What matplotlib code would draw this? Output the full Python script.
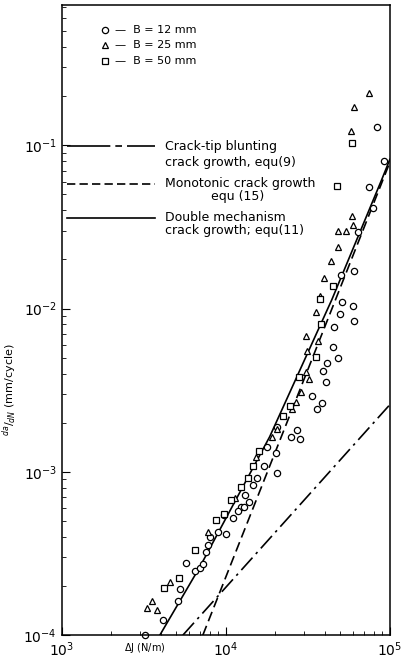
import matplotlib
matplotlib.use("Agg")
import matplotlib.pyplot as plt
from matplotlib.ticker import LogLocator, NullFormatter

# B = 12 mm (circles)
dj_12 = [83400, 91800, 74500, 78700, 63800, 50200, 60300, 50900, 59400, 49500,
         60300, 45600, 44900, 48200, 41300, 39000, 40700, 33400, 38500, 35900,
         27100, 24900, 28200, 20500, 17800, 20200, 17100, 20500, 15500, 14600,
         13100, 13800, 12300, 11000, 9730, 11800, 12900, 7980, 8930, 10000,
         7770, 7550, 6470, 6930, 7240, 5700, 5250, 5090, 4130, 3210]
da_12 = [0.129, 0.0799, 0.0555, 0.0413, 0.0295, 0.0161, 0.0171, 0.0110, 0.0103, 0.0093,
         0.00841, 0.0077, 0.00585, 0.00499, 0.00464, 0.00413, 0.00357, 0.00292, 0.00264, 0.00242,
         0.00181, 0.00164, 0.00159, 0.00189, 0.00142, 0.00131, 0.00109, 0.000986, 0.00092, 0.000835,
         0.000726, 0.00065, 0.000607, 0.000521, 0.000543, 0.000574, 0.000607, 0.0004, 0.00043, 0.000418,
         0.000358, 0.000325, 0.000246, 0.000257, 0.000272, 0.000276, 0.000192, 0.000163, 0.000123, 0.0001]

# B = 25 mm (triangles)
dj_25 = [74500, 60300, 57800, 58600, 59400, 48200, 54000, 48200, 43700, 39600,
         37400, 35400, 30800, 36400, 31200, 30800, 32100, 28600, 26700, 25200,
         20500, 19100, 15200, 11400, 7770, 4560, 3540, 3300, 3800]
da_25 = [0.21, 0.171, 0.122, 0.0369, 0.0325, 0.0299, 0.0299, 0.0239, 0.0196, 0.0155,
         0.012, 0.00957, 0.00676, 0.00629, 0.00552, 0.00407, 0.00368, 0.0031, 0.00268, 0.00242,
         0.00184, 0.00164, 0.00123, 0.000688, 0.00043, 0.000211, 0.000163, 0.000146, 0.000142]

# B = 50 mm (squares)
dj_50 = [58600, 47500, 44900, 37400, 37900, 35400, 27900, 22300, 24500, 15900,
         13600, 12300, 10700, 9730, 8690, 6470, 5160, 4190, 14600]
da_50 = [0.103, 0.0562, 0.0138, 0.0115, 0.00805, 0.00506, 0.00379, 0.00219, 0.00253, 0.00134,
         0.00092, 0.000812, 0.000668, 0.000551, 0.000507, 0.000334, 0.000223, 0.000195, 0.00109]

# Model curves
dj_blunt = [5470, 100000]
da_blunt = [1.0e-4, 2.58e-3]
dj_mono = [7240, 100000]
da_mono = [1.0e-4, 0.0787]
dj_double = [3960, 6930, 18500, 44300, 89300, 100000]
da_double = [1.0e-4, 2.61e-4, 1.64e-3, 1.135e-2, 6.18e-2, 8.2e-2]

fig = plt.figure(figsize=(4.04, 6.63), dpi=100)
ax = fig.add_axes([0.153, 0.042, 0.812, 0.950])

lw = 1.2
ax.plot(dj_blunt, da_blunt, color='black', lw=lw, linestyle=(0, (10, 3, 1.5, 3)))
ax.plot(dj_mono, da_mono, color='black', lw=lw, linestyle=(0, (6, 3)))
ax.plot(dj_double, da_double, color='black', lw=lw)

mk = dict(linestyle='none', mfc='white', mec='black', mew=0.9, ms=4.5, clip_on=False)
ax.plot(dj_12, da_12, marker='o', **mk)
ax.plot(dj_25, da_25, marker='^', **mk)
ax.plot(dj_50, da_50, marker='s', **mk)

ax.set_xscale('log')
ax.set_yscale('log')
ax.set_xlim(1e3, 1e5)
ax.set_ylim(1e-4, 0.72)

ax.xaxis.set_major_locator(LogLocator(base=10))
ax.xaxis.set_minor_locator(LogLocator(base=10, subs=range(2, 10)))
ax.xaxis.set_minor_formatter(NullFormatter())
ax.yaxis.set_minor_locator(LogLocator(base=10, subs=range(2, 10)))
ax.yaxis.set_minor_formatter(NullFormatter())
ax.tick_params(which='both', direction='in', top=False, right=False)
ax.tick_params(which='major', length=6, labelsize=10)
ax.tick_params(which='minor', length=3)
for s in ax.spines.values():
    s.set_linewidth(1.1)

# Legend 1 (markers)
rows = [(0.960, 'o', 'B = 12 mm'), (0.937, '^', 'B = 25 mm'), (0.911, 's', 'B = 50 mm')]
for y, m, lab in rows:
    ax.plot([0.131], [y], marker=m, transform=ax.transAxes, **mk)
    ax.text(0.162, y, '—  ' + lab, transform=ax.transAxes, va='center', ha='left', fontsize=8)

# Legend 2 (lines)
ax.plot([0.015, 0.284], [0.776, 0.776], transform=ax.transAxes, color='black', lw=lw,
        linestyle=(0, (26, 3, 4, 3)))
ax.plot([0.015, 0.284], [0.717, 0.717], transform=ax.transAxes, color='black', lw=lw,
        linestyle=(0, (5, 2.5)))
ax.plot([0.015, 0.284], [0.663, 0.663], transform=ax.transAxes, color='black', lw=lw)
tx = 0.314
fs = 9
ax.text(tx, 0.776, 'Crack-tip blunting', transform=ax.transAxes, va='center', fontsize=fs)
ax.text(tx, 0.751, 'crack growth, equ(9)', transform=ax.transAxes, va='center', fontsize=fs)
ax.text(tx, 0.717, 'Monotonic crack growth', transform=ax.transAxes, va='center', fontsize=fs)
ax.text(0.537, 0.696, 'equ (15)', transform=ax.transAxes, va='center', ha='center', fontsize=fs)
ax.text(tx, 0.663, 'Double mechanism', transform=ax.transAxes, va='center', fontsize=fs)
ax.text(tx, 0.642, 'crack growth; equ(11)', transform=ax.transAxes, va='center', fontsize=fs)

ax.text(0.253, -0.021, r'$\Delta$J (N/m)', transform=ax.transAxes, va='center', ha='center', fontsize=7)
ax.text(-0.16, 0.39, r'$^{da}/_{dN}$ (mm/cycle)', transform=ax.transAxes, va='center',
        ha='center', rotation=90, fontsize=8)

fig.savefig('out.png', dpi=100)
